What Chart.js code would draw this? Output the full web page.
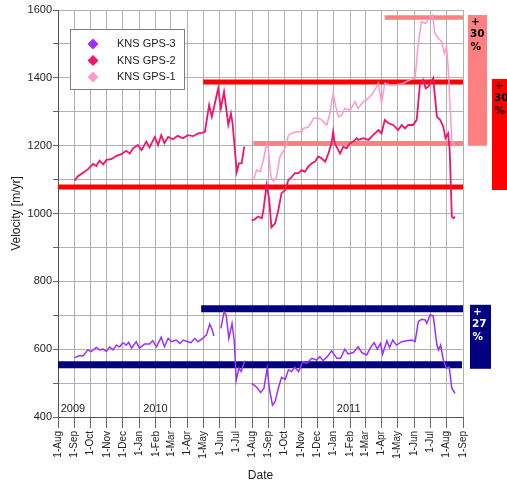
<!DOCTYPE html>
<html>
<head>
<meta charset="utf-8">
<script src="https://cdn.jsdelivr.net/npm/chart.js@4.4.0/dist/chart.umd.min.js"></script>
<style>
  html, body { margin: 0; padding: 0; background: #fff; }
  #wrap { width: 507px; height: 483px; }
</style>
</head>
<body>
<div id="wrap"><canvas id="velChart" width="507" height="483"></canvas></div>
<script>
// x values are days counted from 1 Aug 2009
const monthLabels = ['1-Aug', '1-Sep', '1-Oct', '1-Nov', '1-Dec', '1-Jan', '1-Feb', '1-Mar', '1-Apr', '1-May', '1-Jun', '1-Jul',
    '1-Aug', '1-Sep', '1-Oct', '1-Nov', '1-Dec', '1-Jan', '1-Feb', '1-Mar', '1-Apr', '1-May', '1-Jun', '1-Jul', '1-Aug', '1-Sep'];
const yearLabels = ['2009', '2010', '2011'];
const yearDays = [5, 160, 524];

const seriesNames = ['KNS GPS-3', 'KNS GPS-2', 'KNS GPS-1'];

const gps3Days = [31, 41, 47, 56, 62, 72, 78, 85, 91, 97, 103, 110, 116, 122, 128, 133, 138, 147, 153, 163, 172, 178, 185, 194, 200,
    207, 213, 222, 229, 235, 244, 250, 257, 263, 272, 279, 285, 289, 293, 300, 306, 312, 316, 321, 327, 331, 335, 340, 344, 351, 358,
    364, 373, 381, 387, 393, 397, 403, 408, 414, 420, 427, 433, 439, 445, 452, 460, 467, 477, 486, 492, 498, 506, 514, 524, 531, 539,
    545, 555, 564, 571, 580, 588, 594, 600, 606, 610, 618, 623, 629, 636, 646, 655, 665, 671, 677, 683, 690, 693, 699, 705, 712, 715,
    719, 724, 730, 735, 740, 746];
const gps3Vel = [575, 581, 580, 598, 593, 605, 598, 600, 593, 607, 598, 612, 607, 619, 612, 620, 603, 622, 603, 615, 615, 625, 607, 635, 607,
    632, 622, 627, 617, 627, 622, 619, 632, 622, 632, 642, 674, 661, 639, null, 661, 710, 701, 632, 676, 627, 509, 544, 534, 566, null,
    499, 488, 472, 485, 544, 485, 435, 445, 485, 517, 511, 539, 534, 547, 534, 563, 558, 573, 568, 578, 566, 578, 595, 573, 573, 600,
    586, 590, 607, 590, 583, 607, 619, 600, 617, 586, 625, 605, 627, 612, 622, 625, 627, 622, 681, 688, 686, 676, 701, 698, 612, 598,
    612, 568, 544, 547, 485, 470];

const gps2Days = [31, 37, 47, 56, 66, 72, 78, 85, 91, 100, 110, 119, 128, 135, 141, 150, 157, 166, 172, 182, 188, 194, 200, 207, 216,
    225, 235, 244, 254, 263, 270, 276, 284, 289, 292, 301, 306, 312, 320, 325, 328, 336, 340, 345, 350, 355,
    364, 370, 376, 383, 386, 392, 397, 401, 408, 414, 420, 427, 433, 439, 445, 452, 458, 464, 470, 477, 483, 489, 495, 502, 508,
    514, 517, 520, 525, 530, 536, 542, 549, 555, 561, 564, 574, 583, 592, 602, 608, 614, 621, 630, 639, 646, 652, 658, 667, 674,
    680, 686, 691, 696, 705, 712, 718, 724, 728, 733, 736, 740, 743, 746];
const gps2Vel = [1097, 1109, 1120, 1130, 1146, 1140, 1156, 1145, 1158, 1160, 1170, 1175, 1185, 1177, 1192, 1202, 1187, 1212, 1195, 1226,
    1202, 1231, 1207, 1226, 1219, 1229, 1222, 1231, 1228, 1236, 1238, 1241, 1320, 1285, 1305, 1369, 1310, 1359, 1261, 1295, 1266,
    1123, 1148, 1148, 1197, null,
    979, 983, 991, 986, 1010, 1084, 1040, 959, 971, 1010, 1060, 1069, 1099, 1107, 1119, 1119, 1128, 1123, 1138, 1148, 1153, 1168,
    1163, 1153, 1177, 1207, 1241, 1207, 1192, 1177, 1197, 1192, 1207, 1212, 1222, 1217, 1222, 1217, 1231, 1246, 1236, 1276, 1266,
    1261, 1246, 1261, 1251, 1261, 1261, 1276, 1379, 1394, 1369, 1374, 1399, 1285, 1276, 1256, 1222, 1236, 1187, 991, 986, 991];

const gps1Days = [368, 373, 380, 386, 392, 395, 400, 405, 411, 417, 423, 428, 433, 439, 448, 458, 461, 470, 477, 480, 489, 495, 505, 511,
    517, 522, 527, 533, 539, 549, 558, 564, 574, 580, 589, 599, 602, 608, 614, 624, 636, 649, 661, 671, 677, 683, 690, 696, 704,
    708, 715, 721, 726, 730, 733, 740, 746];
const gps1Vel = [1099, 1128, 1123, 1158, 1207, 1192, 1109, 1094, 1109, 1168, 1182, 1197, 1231, 1236, 1241, 1241, 1251, 1254, 1271, 1281,
    1281, 1276, 1261, 1295, 1354, 1315, 1285, 1290, 1310, 1305, 1330, 1310, 1330, 1335, 1349, 1374, 1384, 1325, 1384, 1379, 1379,
    1384, 1394, 1399, 1502, 1566, 1561, 1571, 1585, 1531, 1516, 1507, 1472, 1492, 1433, 1217, 1197];

// reference levels (base / peak) for each station
const levelVel = [1078, 1388, 1207, 1578, 554, 719];
const levelStart = [0, 273, 367, 614, 0, 269];
const levelEnd = [761, 761, 761, 761, 759, 761];
const levelPercent = ['30', '30', '27'];

const lineColors = ['#9b30ff', '#f0146c', '#ff99cc'];
const levelColors = ['#ff0000', '#ff0000', '#ff8080', '#ff8080', '#000080', '#000080'];
const levelWidths = [5, 5, 4.5, 4.5, 7, 7];
const FONT = "'Liberation Sans', Arial, sans-serif";

const dayOf = (y, m) => Math.round((Date.UTC(y, m, 1) - Date.UTC(2009, 7, 1)) / 86400000);
const monthDays = monthLabels.map((_, i) => dayOf(2009, 7 + i));

const toPoints = (days, vals) => days.map((d, i) => ({ x: d, y: vals[i] }));

const seriesSets = [
    toPoints(gps3Days, gps3Vel),
    toPoints(gps2Days, gps2Vel),
    toPoints(gps1Days, gps1Vel)
].map((data, i) => ({
    label: seriesNames[i],
    data: data,
    borderColor: lineColors[i],
    borderWidth: i === 1 ? 1.8 : 1.5,
    pointRadius: 0,
    tension: 0,
    spanGaps: false
}));

const levelSets = levelVel.map((v, i) => ({
    label: 'level' + i,
    data: [{ x: levelStart[i], y: v }, { x: levelEnd[i], y: v }],
    borderColor: levelColors[i],
    borderWidth: levelWidths[i],
    pointRadius: 0
}));

const extrasPlugin = {
    id: 'extras',
    afterDraw(chart) {
        const ctx = chart.ctx;
        const xs = chart.scales.x, ys = chart.scales.y;
        ctx.save();

        // year labels along the bottom of the plot
        ctx.font = '11px ' + FONT;
        ctx.fillStyle = '#222';
        ctx.textBaseline = 'middle';
        ctx.textAlign = 'left';
        yearLabels.forEach((t, i) => ctx.fillText(t, xs.getPixelForValue(yearDays[i]), chart.chartArea.bottom - 8));

        // legend box
        ctx.fillStyle = '#fff';
        ctx.fillRect(70, 29, 114, 60);
        ctx.strokeStyle = '#7f7f7f';
        ctx.lineWidth = 1;
        ctx.strokeRect(70.5, 29.5, 114, 60);
        seriesNames.forEach((name, i) => {
            const cy = 44 + i * 16.5;
            ctx.fillStyle = lineColors[i];
            ctx.beginPath();
            ctx.moveTo(93, cy - 5.5);
            ctx.lineTo(98.5, cy);
            ctx.lineTo(93, cy + 5.5);
            ctx.lineTo(87.5, cy);
            ctx.closePath();
            ctx.fill();
            ctx.fillStyle = '#222';
            ctx.font = '11px ' + FONT;
            ctx.fillText(name, 117, cy);
        });

        // percentage boxes to the right of the plot
        const boxes = [
            { x: 468, w: 19, top: levelVel[3], bot: levelVel[2], half: 2.5, fill: '#ff8080', text: '#000', pct: levelPercent[0] },
            { x: 492, w: 20, top: levelVel[1], bot: levelVel[0], half: 3, fill: '#ff0000', text: '#000', pct: levelPercent[1] },
            { x: 470, w: 21, top: levelVel[5], bot: levelVel[4], half: 4, fill: '#000080', text: '#fff', pct: levelPercent[2] }
        ];
        boxes.forEach(b => {
            const y0 = ys.getPixelForValue(b.top) - b.half;
            const y1 = ys.getPixelForValue(b.bot) + b.half;
            ctx.fillStyle = b.fill;
            ctx.fillRect(b.x, y0, b.w, y1 - y0);
            ctx.fillStyle = b.text;
            ctx.font = "bold 10.5px 'DejaVu Sans', sans-serif";
            ctx.textAlign = 'left';
            ctx.fillText('+', b.x + 3, y0 + 7);
            ctx.fillText(b.pct, b.x + 2, y0 + 19.5);
            ctx.fillText('%', b.x + 2.5, y0 + 32);
        });
        ctx.restore();
    }
};

const ctxVel = document.getElementById('velChart').getContext('2d');
new Chart(ctxVel, {
    type: 'line',
    data: { datasets: seriesSets.concat(levelSets) },
    options: {
        responsive: false,
        animation: false,
        devicePixelRatio: 1,
        layout: { padding: { left: 0, right: 44, top: 10, bottom: 0 } },
        plugins: { legend: { display: false }, tooltip: { enabled: false } },
        scales: {
            x: {
                type: 'linear',
                min: 0,
                max: monthDays[monthDays.length - 1],
                afterBuildTicks: s => { s.ticks = monthDays.map(v => ({ value: v })); },
                afterFit: s => { s.height = 66; },
                ticks: {
                    autoSkip: false,
                    minRotation: 90,
                    maxRotation: 90,
                    padding: 3,
                    color: '#222',
                    font: { family: FONT, size: 10 },
                    callback: (v, i) => monthLabels[i]
                },
                grid: { color: '#b0b0b0', tickColor: '#666', tickLength: 11 },
                border: { color: '#555' },
                title: { display: true, text: 'Date', color: '#222', font: { family: FONT, size: 12 }, padding: { top: 0, bottom: 0 } }
            },
            y: {
                min: 400,
                max: 1600,
                afterFit: s => { s.width = 58; },
                ticks: {
                    stepSize: 100,
                    padding: 1,
                    color: '#222',
                    font: { family: FONT, size: 11 },
                    callback: v => (v % 200 === 0 ? v : '')
                },
                grid: { color: '#b0b0b0', tickColor: '#666', tickLength: 5 },
                border: { color: '#555' },
                title: { display: true, text: 'Velocity [m/yr]', color: '#222', font: { family: FONT, size: 12 }, padding: { top: 9, bottom: 0 } }
            }
        }
    },
    plugins: [extrasPlugin]
});
</script>
</body>
</html>
